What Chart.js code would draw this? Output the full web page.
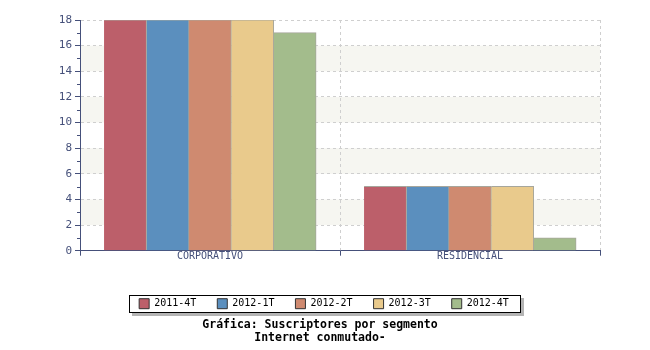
<!DOCTYPE html>
<html>
<head>
<meta charset="utf-8">
<title>Suscriptores por segmento</title>
<script src="https://cdn.jsdelivr.net/npm/chart.js@4"></script>
<style>
    html, body { margin: 0; padding: 0; background: #fff; }
    #wrap { width: 650px; height: 350px; }
</style>
</head>
<body>
<div id="wrap"><canvas id="chart" width="650" height="350"></canvas></div>
<script>
// Segments on the x axis
const segments = ['CORPORATIVO', 'RESIDENCIAL'];

// One series per quarter
const quarters = ['2011-4T', '2012-1T', '2012-2T', '2012-3T', '2012-4T'];
const subscribers = [
    [18, 5],
    [18, 5],
    [18, 5],
    [18, 5],
    [17, 1]
];
const quarterColors = ['#bc5f6a', '#5b8fbe', '#cf8a70', '#e9ca8c', '#a3bc8c'];

const titleLines = ['Gráfica: Suscriptores por segmento', 'Internet conmutado-'];

const axisColor = '#45507a';
const monoFont = "'DejaVu Sans Mono', 'Liberation Mono', monospace";

// Alternating light bands and the small unlabeled ticks on the y axis
const backdrop = {
    id: 'backdrop',
    beforeDraw(chart) {
        const { ctx, chartArea } = chart;
        const y = chart.scales.y;
        ctx.save();
        ctx.fillStyle = '#f6f6f1';
        for (let v = 2; v < y.max; v += 4) {
            const top = y.getPixelForValue(v + 2);
            const bottom = y.getPixelForValue(v);
            ctx.fillRect(chartArea.left, top, chartArea.right - chartArea.left, bottom - top);
        }
        ctx.restore();
    },
    afterDraw(chart) {
        const { ctx, chartArea } = chart;
        const y = chart.scales.y;
        ctx.save();
        ctx.strokeStyle = axisColor;
        ctx.lineWidth = 1;
        for (let v = 1; v < y.max; v += 2) {
            const py = Math.round(y.getPixelForValue(v)) + 0.5;
            ctx.beginPath();
            ctx.moveTo(chartArea.left - 3, py);
            ctx.lineTo(chartArea.left, py);
            ctx.stroke();
        }
        ctx.restore();
    }
};

// Legend and title are centred on the whole canvas, not on the plot
const recenter = {
    id: 'recenter',
    afterUpdate(chart) {
        const legend = chart.legend;
        legend.left += 24;
        legend.right += 24;
        legend.top += 4;
        legend.bottom += 4;
        // fit() rebuilds the hit boxes so they can be placed again
        legend.fit();
        legend.adjustHitBoxes();
        const title = chart.titleBlock;
        title.left += 20;
        title.right += 20;
    }
};

// Frame with a drop shadow around the legend items
const legendFrame = {
    id: 'legendFrame',
    afterDraw(chart) {
        const boxes = chart.legend.legendHitBoxes || [];
        if (!boxes.length) return;
        const left = Math.round(Math.min(...boxes.map(b => b.left))) - 10;
        const right = Math.round(Math.max(...boxes.map(b => b.left + b.width))) + 11;
        const mid = Math.round(boxes[0].top + boxes[0].height / 2);
        const top = mid - 9;
        const bottom = mid + 8;
        const { ctx } = chart;
        ctx.save();
        ctx.fillStyle = '#b4b4b4';
        ctx.fillRect(left + 3, bottom + 1, right - left, 3);
        ctx.fillRect(right + 1, top + 3, 3, bottom - top + 1);
        ctx.strokeStyle = '#000000';
        ctx.lineWidth = 1;
        ctx.strokeRect(left + 0.5, top + 0.5, right - left, bottom - top);
        ctx.restore();
    }
};

const datasets = quarters.map((q, i) => ({
    label: q,
    data: subscribers[i],
    backgroundColor: quarterColors[i],
    borderColor: '#a6a69c',
    borderWidth: { top: 1, right: 1, left: 0, bottom: 0 },
    borderSkipped: false,
    inflateAmount: 0.5,
    categoryPercentage: 0.815,
    barPercentage: 1
}));

new Chart(document.getElementById('chart'), {
    type: 'bar',
    data: { labels: segments, datasets: datasets },
    plugins: [backdrop, recenter, legendFrame],
    options: {
        responsive: false,
        animation: false,
        layout: { padding: { top: 20, right: 50, left: 0, bottom: 6 } },
        plugins: {
            tooltip: { enabled: false },
            legend: {
                position: 'bottom',
                labels: {
                    font: { family: monoFont, size: 10 },
                    color: '#000',
                    boxWidth: 10,
                    boxHeight: 10,
                    padding: 21,
                    generateLabels(chart) {
                        return chart.data.datasets.map((ds, i) => ({
                            text: ds.label,
                            fillStyle: ds.backgroundColor,
                            strokeStyle: '#333',
                            lineWidth: 1,
                            datasetIndex: i
                        }));
                    }
                }
            },
            title: {
                display: true,
                position: 'bottom',
                text: titleLines,
                color: '#000',
                font: { family: monoFont, size: 11.5, weight: 'bold', lineHeight: 1.1 },
                padding: { top: 4, bottom: 0 }
            }
        },
        scales: {
            x: {
                grid: {
                    offset: true,
                    color: '#cfcfcf',
                    tickColor: axisColor,
                    tickLength: 5,
                    tickBorderDash: [0, 0]
                },
                border: { color: axisColor, dash: [3, 3], width: 1 },
                ticks: {
                    color: axisColor,
                    font: { family: monoFont, size: 10 },
                    padding: -5
                },
                afterFit(scale) { scale.height = 23; }
            },
            y: {
                min: 0,
                max: 18,
                grid: {
                    color: '#cfcfcf',
                    tickColor: axisColor,
                    tickLength: 5,
                    tickBorderDash: [0, 0]
                },
                border: { color: axisColor, dash: [3, 3], width: 1 },
                ticks: {
                    stepSize: 2,
                    color: axisColor,
                    font: { family: monoFont, size: 11 },
                    padding: 3
                },
                afterFit(scale) { scale.width = 80; }
            }
        }
    }
});
</script>
</body>
</html>
